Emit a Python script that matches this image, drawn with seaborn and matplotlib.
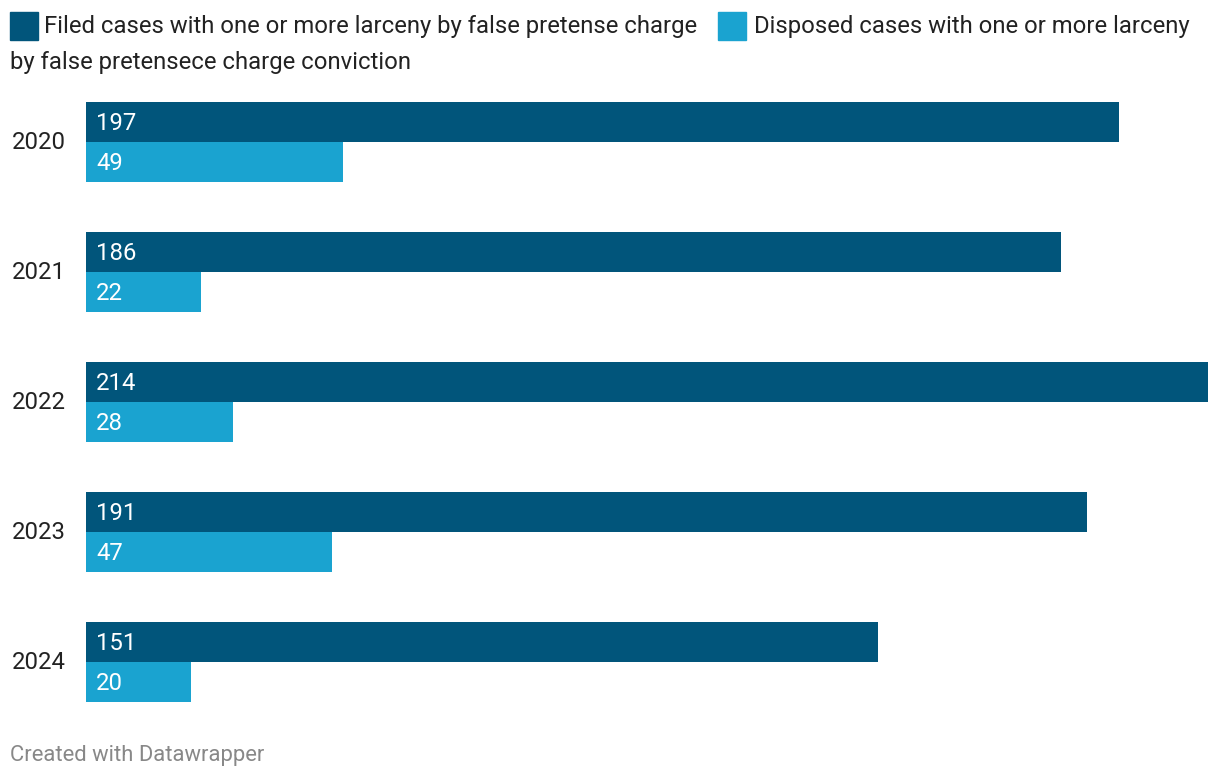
import matplotlib
matplotlib.use("Agg")
import matplotlib.pyplot as plt
import pandas as pd
import seaborn as sns
from matplotlib.patches import Rectangle
from matplotlib.transforms import ScaledTranslation

years = ["2020", "2021", "2022", "2023", "2024"]
filed = [197, 186, 214, 191, 151]
disposed = [49, 22, 28, 47, 20]
series_names = [
    "Filed cases with one or more larceny by false pretense charge",
    "Disposed cases with one or more larceny by false pretensece charge conviction",
]
colors = ["#01557b", "#1aa3d0"]

df = pd.DataFrame({
    "year": years * 2,
    "value": filed + disposed,
    "series": [series_names[0]] * len(years) + [series_names[1]] * len(years),
})

sns.set_theme(style="white")
plt.rcParams["font.family"] = ["Roboto", "DejaVu Sans"]

W, H = 1220, 780
FS = 17.2
fig = plt.figure(figsize=(W / 100, H / 100), dpi=100)
# axes in pixel space: x 86..1208, y 77..727
ax = fig.add_axes([86 / W, (H - 727) / H, (1208 - 86) / W, 650 / H])

sns.barplot(data=df, y="year", x="value", hue="series", palette=colors,
            orient="h", width=80 / 130, saturation=1, linewidth=0,
            ax=ax, legend=False)
ax.set_xlim(0, max(filed))
ax.set_ylim(4.5, -0.5)
ax.set_xlabel("")
ax.set_ylabel("")
ax.set_xticks([])
ax.tick_params(axis="y", length=0, pad=14.4, labelsize=FS, labelcolor="#222222")
up = ScaledTranslation(0, 2 / 100, fig.dpi_scale_trans)
for lbl in ax.get_yticklabels():
    lbl.set_transform(lbl.get_transform() + up)
for s in ax.spines.values():
    s.set_visible(False)

down = ScaledTranslation(0, -2 / 100, fig.dpi_scale_trans)
for container in ax.containers:
    for bar in container:
        ax.text(bar.get_x() + 10 * max(filed) / 1122, bar.get_y() + bar.get_height() / 2,
                f"{int(bar.get_width())}", color="white", fontsize=FS,
                va="center", ha="left", transform=ax.transData + down)

# legend, drawn by hand so it wraps like the original
def px(x, y):
    return x / W, 1 - y / H

for (x0, y0), c in zip([(10, 12), (718, 12)], colors):
    fig.patches.append(Rectangle(px(x0, y0 + 28), 28 / W, 28 / H,
                                 transform=fig.transFigure, color=c))
fig.text(*px(44, 27), series_names[0], fontsize=FS, color="#222222", va="center")
fig.text(*px(754, 27), "Disposed cases with one or more larceny",
         fontsize=FS, color="#222222", va="center")
fig.text(*px(10, 63), "by false pretensece charge conviction",
         fontsize=FS, color="#222222", va="center")

fig.text(*px(10, 755), "Created with Datawrapper", fontsize=15.8,
         color="#888888", va="center")

fig.savefig("out.png", dpi=100, facecolor="white")
